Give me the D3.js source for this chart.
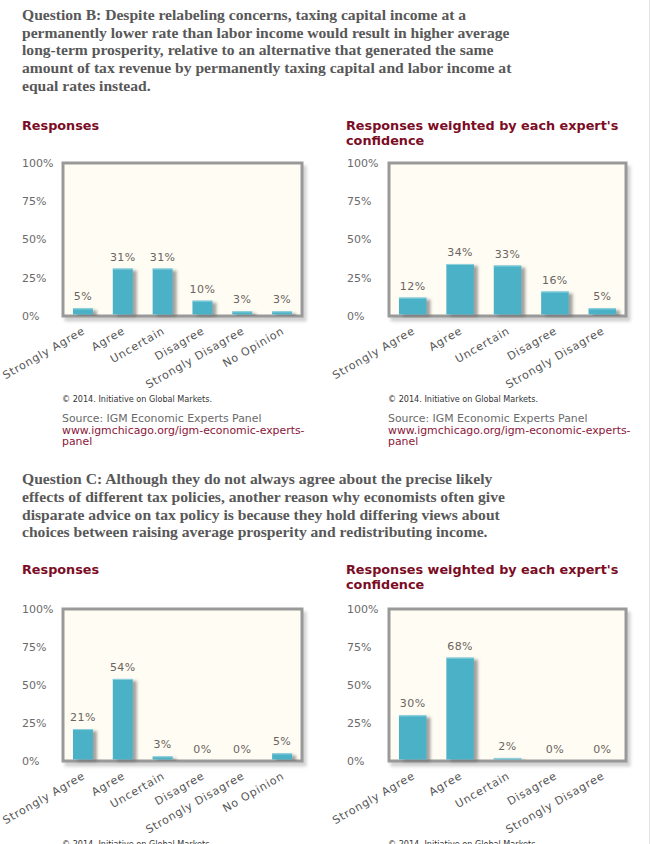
<!DOCTYPE html>
<html>
<head>
<meta charset="utf-8">
<script src="https://cdn.jsdelivr.net/npm/d3@7"></script>
<style>
  html, body { margin: 0; padding: 0; background: #fff; }
  svg { display: block; }
</style>
</head>
<body>
<div id="chart"></div>
<script>
// ---- data ----
const categoriesAll = ['Strongly Agree', 'Agree', 'Uncertain', 'Disagree', 'Strongly Disagree', 'No Opinion'];
const categoriesWeighted = ['Strongly Agree', 'Agree', 'Uncertain', 'Disagree', 'Strongly Disagree'];
const questionBResponses = [5, 31, 31, 10, 3, 3];
const questionBWeighted = [12, 34, 33, 16, 5];
const questionCResponses = [21, 54, 3, 0, 0, 5];
const questionCWeighted = [30, 68, 2, 0, 0];
const yTicks = [0, 25, 50, 75, 100];

const questionBText = [
  'Question B: Despite relabeling concerns, taxing capital income at a',
  'permanently lower rate than labor income would result in higher average',
  'long-term prosperity, relative to an alternative that generated the same',
  'amount of tax revenue by permanently taxing capital and labor income at',
  'equal rates instead.'
];
const questionCText = [
  'Question C: Although they do not always agree about the precise likely',
  'effects of different tax policies, another reason why economists often give',
  'disparate advice on tax policy is because they hold differing views about',
  'choices between raising average prosperity and redistributing income.'
];
const titleResponses = ['Responses'];
const titleWeighted = ['Responses weighted by each expert\'s', 'confidence'];

const width = 652, height = 844;
const maroon = '#7b0c24';
const barColor = '#4bb1c6';
const sans = 'DejaVu Sans, Verdana, sans-serif';
const serif = 'Liberation Serif, Georgia, serif';

const svg = d3.select('#chart').append('svg')
  .attr('width', width)
  .attr('height', height);

// filters for soft shadows
const defs = svg.append('defs');
const barShadow = defs.append('filter').attr('id', 'barShadow')
  .attr('x', '-20%').attr('y', '-20%').attr('width', '160%').attr('height', '140%');
barShadow.append('feDropShadow')
  .attr('dx', 4).attr('dy', 2).attr('stdDeviation', 1.6)
  .attr('flood-color', '#666').attr('flood-opacity', 0.6);
const frameShadow = defs.append('filter').attr('id', 'frameShadow')
  .attr('x', '-10%').attr('y', '-10%').attr('width', '120%').attr('height', '125%');
frameShadow.append('feDropShadow')
  .attr('dx', 3).attr('dy', 4).attr('stdDeviation', 1.5)
  .attr('flood-color', '#999').attr('flood-opacity', 0.45);

// page border on the right
svg.append('line')
  .attr('x1', 649.5).attr('x2', 649.5).attr('y1', 0).attr('y2', height)
  .attr('stroke', '#e4e4e4').attr('stroke-width', 1);

function drawQuestion(lines, x, y0) {
  svg.append('text')
    .attr('x', x).attr('y', y0)
    .style('font-family', serif)
    .style('font-weight', 'bold')
    .style('font-size', '15.6px')
    .attr('fill', '#585858')
    .selectAll('tspan')
    .data(lines)
    .join('tspan')
    .attr('x', x)
    .attr('dy', (d, i) => i === 0 ? 0 : 17.7)
    .text(d => d);
}

function drawChart(opt) {
  const g = svg.append('g');

  // title
  g.append('text')
    .attr('x', opt.titleX).attr('y', opt.titleY)
    .style('font-family', sans)
    .style('font-weight', 'bold')
    .style('font-size', '12.8px')
    .attr('fill', maroon)
    .selectAll('tspan')
    .data(opt.title)
    .join('tspan')
    .attr('x', opt.titleX)
    .attr('dy', (d, i) => i === 0 ? 0 : 15)
    .text(d => d);

  const x = d3.scaleBand()
    .domain(opt.categories)
    .range([opt.left, opt.right])
    .paddingInner(opt.padInner)
    .paddingOuter(opt.padOuter);

  const y = d3.scaleLinear()
    .domain([0, 100])
    .range([opt.bottom, opt.top]);

  // frame
  g.append('rect')
    .attr('x', opt.left).attr('y', opt.top)
    .attr('width', opt.right - opt.left)
    .attr('height', opt.bottom - opt.top)
    .attr('fill', '#fffcf3')
    .attr('stroke', '#999')
    .attr('stroke-width', 3)
    .attr('filter', 'url(#frameShadow)');

  // y axis labels
  g.selectAll('text.ytick')
    .data(yTicks)
    .join('text')
    .attr('class', 'ytick')
    .attr('x', opt.yLabelX)
    .attr('y', d => y(d))
    .attr('dy', '0.36em')
    .style('font-family', sans)
    .style('font-size', '11px')
    .attr('fill', '#6a6a6a')
    .text(d => d + '%');

  const data = opt.categories.map((c, i) => ({ cat: c, value: opt.values[i] }));

  // bars
  const bars = g.append('g');
  bars.selectAll('rect.bar')
    .data(data.filter(d => d.value > 0))
    .join('rect')
    .attr('class', 'bar')
    .attr('x', d => x(d.cat))
    .attr('y', d => y(d.value))
    .attr('width', x.bandwidth())
    .attr('height', d => y(0) - y(d.value) - 1.5)
    .attr('fill', barColor)
    .attr('filter', 'url(#barShadow)');

  bars.selectAll('line.hl')
    .data(data.filter(d => d.value > 0))
    .join('line')
    .attr('class', 'hl')
    .attr('x1', d => x(d.cat))
    .attr('x2', d => x(d.cat) + x.bandwidth())
    .attr('y1', d => y(d.value) + 0.5)
    .attr('y2', d => y(d.value) + 0.5)
    .attr('stroke', '#8fd2de')
    .attr('stroke-width', 1);

  // value labels
  g.selectAll('text.val')
    .data(data)
    .join('text')
    .attr('class', 'val')
    .attr('x', d => x(d.cat) + x.bandwidth() / 2)
    .attr('y', d => y(d.value) - 8)
    .attr('text-anchor', 'middle')
    .style('font-family', sans)
    .style('font-size', '11px')
    .style('letter-spacing', '0.4px')
    .attr('fill', '#6a6460')
    .text(d => d.value + '%');

  // category labels
  g.selectAll('text.cat')
    .data(opt.categories)
    .join('text')
    .attr('class', 'cat')
    .attr('transform', d => `translate(${x(d) + x.bandwidth() / 2 + 3},${opt.bottom + 17}) rotate(-30)`)
    .attr('text-anchor', 'end')
    .style('font-family', sans)
    .style('font-size', '11px')
    .style('letter-spacing', '0.8px')
    .attr('fill', '#555')
    .text(d => d);

  // credits
  g.append('text')
    .attr('x', opt.left - 1).attr('y', opt.bottom + 86)
    .style('font-family', sans)
    .style('font-size', '8.1px')
    .attr('fill', '#333')
    .text('\u00a9 2014. Initiative on Global Markets.');

  const src = g.append('text')
    .attr('x', opt.left - 1).attr('y', opt.bottom + 105.5)
    .style('font-family', sans)
    .style('font-size', '10.9px');
  src.append('tspan').attr('x', opt.left - 1).attr('fill', '#6a6a6a')
    .text('Source: IGM Economic Experts Panel');
  src.append('tspan').attr('x', opt.left - 1).attr('dy', 12.2).attr('fill', '#8a1538')
    .text('www.igmchicago.org/igm-economic-experts-');
  src.append('tspan').attr('x', opt.left - 1).attr('dy', 11.6).attr('fill', '#8a1538')
    .text('panel');
}

// ---- Question B ----
drawQuestion(questionBText, 22, 20);
drawChart({
  title: titleResponses, titleX: 22, titleY: 129.5,
  categories: categoriesAll, values: questionBResponses,
  left: 63, right: 302, top: 163, bottom: 316, yLabelX: 22,
  padInner: 0.5, padOuter: 0.25
});
drawChart({
  title: titleWeighted, titleX: 346, titleY: 129.5,
  categories: categoriesWeighted, values: questionBWeighted,
  left: 389, right: 626, top: 163, bottom: 316, yLabelX: 347,
  padInner: 0.42, padOuter: 0.21
});

// ---- Question C ----
drawQuestion(questionCText, 22, 484.3);
drawChart({
  title: titleResponses, titleX: 22, titleY: 573.5,
  categories: categoriesAll, values: questionCResponses,
  left: 63, right: 302, top: 609, bottom: 761, yLabelX: 22,
  padInner: 0.5, padOuter: 0.25
});
drawChart({
  title: titleWeighted, titleX: 346, titleY: 573.5,
  categories: categoriesWeighted, values: questionCWeighted,
  left: 389, right: 626, top: 609, bottom: 761, yLabelX: 347,
  padInner: 0.42, padOuter: 0.21
});
</script>
</body>
</html>
